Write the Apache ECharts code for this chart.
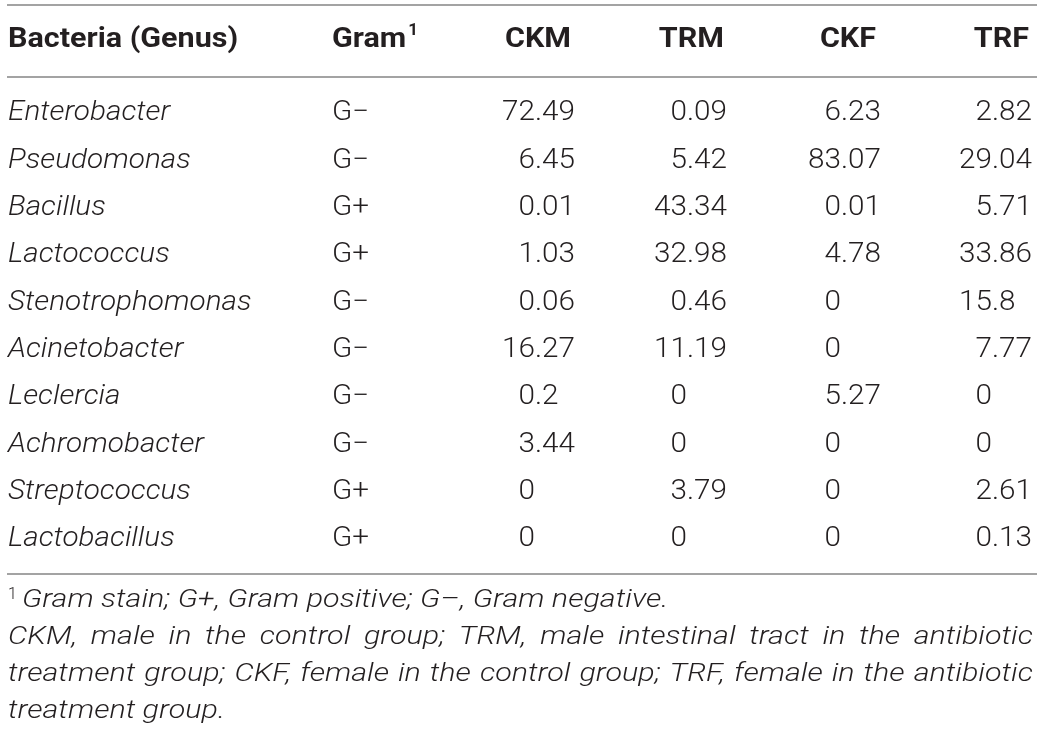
<!DOCTYPE html>
<html>
<head>
<meta charset="utf-8">
<script src="https://cdn.jsdelivr.net/npm/echarts@6/dist/echarts.min.js"></script>
<style>
  html, body { margin: 0; padding: 0; background: #fff; }
  #chart { width: 1042px; height: 740px; }
</style>
</head>
<body>
<div id="chart"></div>
<script>
// table content
const genera = ['Enterobacter', 'Pseudomonas', 'Bacillus', 'Lactococcus', 'Stenotrophomonas',
                'Acinetobacter', 'Leclercia', 'Achromobacter', 'Streptococcus', 'Lactobacillus'];
const gram = ['G\u2212', 'G\u2212', 'G+', 'G+', 'G\u2212', 'G\u2212', 'G\u2212', 'G\u2212', 'G+', 'G+'];
const groups = ['CKM', 'TRM', 'CKF', 'TRF'];
const ckm = [72.49, 6.45, 0.01, 1.03, 0.06, 16.27, 0.2, 3.44, 0, 0];
const trm = [0.09, 5.42, 43.34, 32.98, 0.46, 11.19, 0, 0, 3.79, 0];
const ckf = [6.23, 83.07, 0.01, 4.78, 0, 0, 5.27, 0, 0, 0];
const trf = [2.82, 29.04, 5.71, 33.86, 15.8, 7.77, 0, 0, 2.61, 0.13];
const headFirst = 'Bacteria (Genus)';
const headGram = 'Gram';
const footNote1 = 'Gram stain; G+, Gram positive; G\u2013, Gram negative.';
// kept on the same line breaks as the original
const footNote2 = [
    'CKM, male in the control group; TRM, male intestinal tract in the antibiotic',
    'treatment group; CKF, female in the control group; TRF, female in the antibiotic',
    'treatment group.'
];

// layout
const FAMILY = 'Roboto, "Liberation Sans", sans-serif';
const bodyFont = '300 27px ' + FAMILY;
const italicFont = 'italic 300 27px ' + FAMILY;
const headFont = 'bold 27px ' + FAMILY;
const noteFont = 'italic 300 25px ' + FAMILY;
// Roboto runs narrower than the original face, so text is widened a little
const bodyScale = 1.1, headScale = 1.13, noteScale = 1.22;
const textColor = '#231f20';
const ruleColor = '#a3a3a3';
const nameX = 8, gramX = 332;
const numRight = [575, 727, 881, 1032];
const headRight = [571, 724, 876, 1029];

const ctx = document.createElement('canvas').getContext('2d');
function textWidth(str, font, scale) {
    ctx.font = font;
    return ctx.measureText(str).width * (scale || 1);
}

const columns = [ckm, trm, ckf, trf];
const cells = [];
genera.forEach((g, r) => {
    cells.push([0, r, g]);
    cells.push([1, r, gram[r]]);
    columns.forEach((arr, c) => cells.push([c + 2, r, String(arr[r])]));
});

function txt(x, y, text, font, scale, align, fill) {
    return {
        type: 'text', x: x, y: y, scaleX: scale || 1, silent: true,
        style: { text: text, font: font, fill: fill || textColor, textAlign: align || 'left', textVerticalAlign: 'middle' }
    };
}

function renderCell(params, api) {
    const col = api.value(0);
    const y = api.coord([0, api.value(1)])[1] + 1;
    const text = cells[params.dataIndex][2];
    if (col === 0) return txt(nameX, y, text, italicFont, bodyScale);
    if (col === 1) return txt(gramX, y, text, bodyFont, bodyScale);
    // decimal aligned numbers
    const dec = numRight[col - 2] - textWidth('.00', bodyFont, bodyScale);
    const parts = text.split('.');
    const children = [txt(dec, y, parts[0], bodyFont, bodyScale, 'right')];
    if (parts[1]) children.push(txt(dec, y, '.' + parts[1], bodyFont, bodyScale, 'left'));
    return { type: 'group', children: children };
}

function rule(y) {
    return { type: 'line', silent: true, shape: { x1: 7, y1: y, x2: 1037, y2: y }, style: { stroke: ruleColor, lineWidth: 2 } };
}

function justified(line, y, left, right) {
    const words = line.split(' ');
    const widths = words.map(w => textWidth(w, noteFont, noteScale));
    const gap = (right - left - widths.reduce((a, b) => a + b, 0)) / (words.length - 1);
    let x = left;
    return words.map((w, i) => {
        const el = txt(x, y, w, noteFont, noteScale);
        x += widths[i] + gap;
        return el;
    });
}

const graphics = [rule(5), rule(77), rule(574)];
graphics.push(txt(nameX, 40, headFirst, headFont, headScale));
graphics.push(txt(gramX, 40, headGram, headFont, headScale));
graphics.push(txt(gramX + textWidth(headGram, headFont, headScale) + 2, 31, '1', 'bold 17px ' + FAMILY));
groups.forEach((g, i) => graphics.push(txt(headRight[i], 40, g, headFont, headScale, 'right')));

const noteY = [601, 638, 675, 712];
graphics.push(txt(8, 595, '1', '300 16px ' + FAMILY));
graphics.push(txt(22, noteY[0], footNote1, noteFont, noteScale));
footNote2.forEach((line, i) => {
    if (i < footNote2.length - 1) graphics.push(...justified(line, noteY[i + 1], 8, 1033));
    else graphics.push(txt(8, noteY[i + 1], line, noteFont, noteScale));
});

const chart = echarts.init(document.getElementById('chart'));
chart.setOption({
    animation: false,
    backgroundColor: '#fff',
    grid: { left: 0, right: 0, top: 88.8, height: 473.33 },
    xAxis: { type: 'value', min: 0, max: 5, show: false },
    yAxis: { type: 'category', data: genera, inverse: true, show: false },
    series: [{
        type: 'custom',
        renderItem: renderCell,
        data: cells.map(c => [c[0], c[1]]),
        silent: true
    }],
    graphic: graphics
});
</script>
</body>
</html>
